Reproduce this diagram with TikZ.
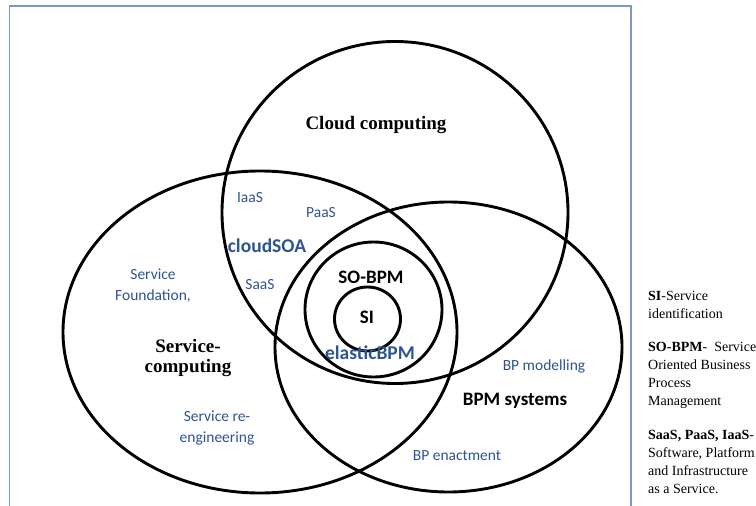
\documentclass[tikz,border=0pt]{standalone}
\usepackage{fontspec}
\setmainfont{Liberation Serif}
\newfontfamily\calib{Carlito}
\definecolor{txtblue}{RGB}{46,84,145}
\definecolor{framecol}{RGB}{122,152,196}
\begin{document}
\begin{tikzpicture}[x=1pt,y=-1pt,
  ring/.style={draw=black,line width=2.9pt},
  serifbold/.style={inner sep=0pt,align=center,font=\fontsize{19}{20}\selectfont\bfseries},
  sansbold/.style={inner sep=0pt,align=center,font=\calib\fontsize{19}{20}\selectfont\bfseries},
  bluebig/.style={inner sep=0pt,align=center,text=txtblue,font=\calib\fontsize{19.5}{21}\selectfont\bfseries},
  bluesmall/.style={inner sep=0pt,align=center,text=txtblue,font=\calib\fontsize{15.5}{20.5}\selectfont},
  legendtxt/.style={inner sep=0pt,align=left,anchor=base west,font=\fontsize{14}{18}\selectfont}]
\useasboundingbox (0,0) rectangle (756,506);
\fill[white] (0,0) rectangle (756,506);
\draw[framecol,line width=1.1pt] (9.5,520) -- (9.5,6) -- (631,6) -- (631,520);
% circles
\draw[ring] (395,212.5) ellipse [x radius=173pt, y radius=171pt];
\draw[ring] (260,332) ellipse [x radius=197pt, y radius=161pt];
\draw[ring] (448.5,347) ellipse [x radius=173.5pt, y radius=145pt];
\draw[ring] (373.5,309.5) ellipse [x radius=68.5pt, y radius=67.5pt];
\draw[ring] (367.5,319) ellipse [x radius=33pt, y radius=32pt];
% labels
\node[serifbold] (cloud) at (376,125) {Cloud computing};
\node[serifbold] (svc) at (188,358) {Service-\\computing};
\node[sansbold] (sobpm) at (371,277) {SO-BPM};
\node[sansbold] (si) at (367,317) {SI};
\node[sansbold] (bpms) at (515,401) {BPM systems};
\node[bluebig] (csoa) at (267,246) {cloudSOA};
\node[bluebig] (ebpm) at (370,353) {elasticBPM};
\node[bluesmall] (iaas) at (250,198) {IaaS};
\node[bluesmall] (paas) at (321,213) {PaaS};
\node[bluesmall] (saas) at (260,285) {SaaS};
\node[bluesmall] (found) at (153,285.5) {Service\\Foundation,};
\node[bluesmall] (reeng) at (217,428) {Service re-\\engineering};
\node[bluesmall] (bpmod) at (544,366) {BP modelling};
\node[bluesmall] (bpen) at (457,456) {BP enactment};
% legend (base anchor = baseline of last line)
\node[legendtxt] (lg1) at (648,318) {\textbf{SI}-Service\\identification};
\node[legendtxt] (lg2) at (648,405) {\textbf{SO-BPM}- \ Service\\Oriented Business\\Process\\Management};
\node[legendtxt] (lg3) at (648,493) {\textbf{SaaS, PaaS, IaaS}-\\Software, Platform\\and Infrastructure\\as a Service.};
\end{tikzpicture}
\end{document}
